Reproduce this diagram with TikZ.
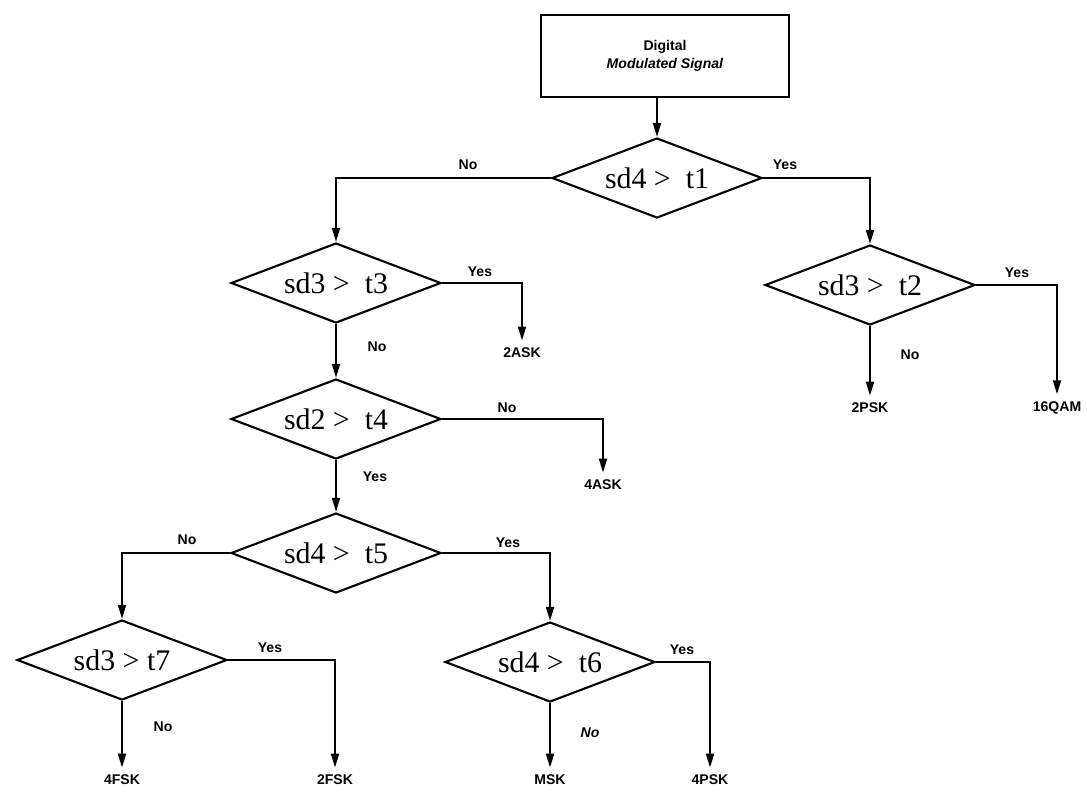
\documentclass[tikz,border=0pt]{standalone}
\usepackage{fontspec}
\setmainfont{Liberation Serif}
\setsansfont{Liberation Sans}
\usepackage{tikz}
\usetikzlibrary{positioning,arrows.meta,shapes.geometric}

\begin{document}
\begin{tikzpicture}[
  dec/.style={diamond,draw,line width=1.2pt,aspect=2.6,minimum width=4.2cm,minimum height=1.6cm,
              inner sep=0pt,font=\fontsize{17}{20}\selectfont},
  src/.style={rectangle,draw,line width=1.2pt,minimum width=4.96cm,minimum height=1.64cm,align=center,
              font=\sffamily\bfseries\fontsize{8}{10.5}\selectfont},
  leaf/.style={inner sep=4pt,font=\sffamily\bfseries\fontsize{8}{10}\selectfont},
  lbl/.style={inner sep=1pt,font=\sffamily\bfseries\fontsize{8}{10}\selectfont},
  arr/.style={-{Triangle[length=8pt,width=4.5pt]},line width=1.2pt}
]
\useasboundingbox (0,0) rectangle (21.74,-15.98);
% start and tests
\node[src] (sig) at (13.30,-1.12) {Digital\\\textit{Modulated Signal}};
\node[dec] (d1) at (13.14,-3.56) {sd4 > \ t1};
\node[dec] (d2) at (6.72,-5.66) {sd3 > \ t3};
\node[dec] (d3) at (17.40,-5.70) {sd3 > \ t2};
\node[dec] (d4) at (6.72,-8.38) {sd2 > \ t4};
\node[dec] (d5) at (6.72,-11.06) {sd4 > \ t5};
\node[dec] (d6) at (2.44,-13.20) {sd3 > t7};
\node[dec] (d7) at (11.00,-13.24) {sd4 > \ t6};
% results
\node[leaf] (ask2) at (10.44,-7.06) {2ASK};
\node[leaf] (ask4) at (12.06,-9.70) {4ASK};
\node[leaf] (psk2) at (17.40,-8.16) {2PSK};
\node[leaf] (qam16) at (21.14,-8.16) {16QAM};
\node[leaf] (fsk4) at (2.44,-15.60) {4FSK};
\node[leaf] (fsk2) at (6.70,-15.60) {2FSK};
\node[leaf] (msk) at (11.00,-15.60) {MSK};
\node[leaf] (psk4) at (14.20,-15.60) {4PSK};
% branch labels
\node[lbl] (n1) at (9.36,-3.30) {No};
\node[lbl] (y1) at (15.70,-3.30) {Yes};
\node[lbl] (y2) at (9.60,-5.44) {Yes};
\node[lbl] (n2) at (7.54,-6.94) {No};
\node[lbl] (y3) at (20.34,-5.46) {Yes};
\node[lbl] (n3) at (18.20,-7.10) {No};
\node[lbl] (n4) at (10.14,-8.16) {No};
\node[lbl] (y4) at (7.50,-9.54) {Yes};
\node[lbl] (n5) at (3.74,-10.80) {No};
\node[lbl] (y5) at (10.16,-10.86) {Yes};
\node[lbl] (y6) at (5.40,-12.96) {Yes};
\node[lbl] (n6) at (3.26,-14.54) {No};
\node[lbl] (y7) at (13.64,-13.00) {Yes};
\node[lbl] (n7) at (11.80,-14.66) {\textit{No}};
% connectors
\draw[arr] (sig.south -| d1.north) -- (d1.north);
\draw[arr] (d1.west) -| (d2.north);
\draw[arr] (d1.east) -| (d3.north);
\draw[arr] (d2.east) -| (ask2.north);
\draw[arr] (d2.south) -- (d4.north);
\draw[arr] (d3.south) -- (psk2.north);
\draw[arr] (d3.east) -| (qam16.north);
\draw[arr] (d4.east) -| (ask4.north);
\draw[arr] (d4.south) -- (d5.north);
\draw[arr] (d5.west) -| (d6.north);
\draw[arr] (d5.east) -| (d7.north);
\draw[arr] (d6.south) -- (fsk4.north);
\draw[arr] (d6.east) -| (fsk2.north);
\draw[arr] (d7.south) -- (msk.north);
\draw[arr] (d7.east) -| (psk4.north);
\end{tikzpicture}
\end{document}
